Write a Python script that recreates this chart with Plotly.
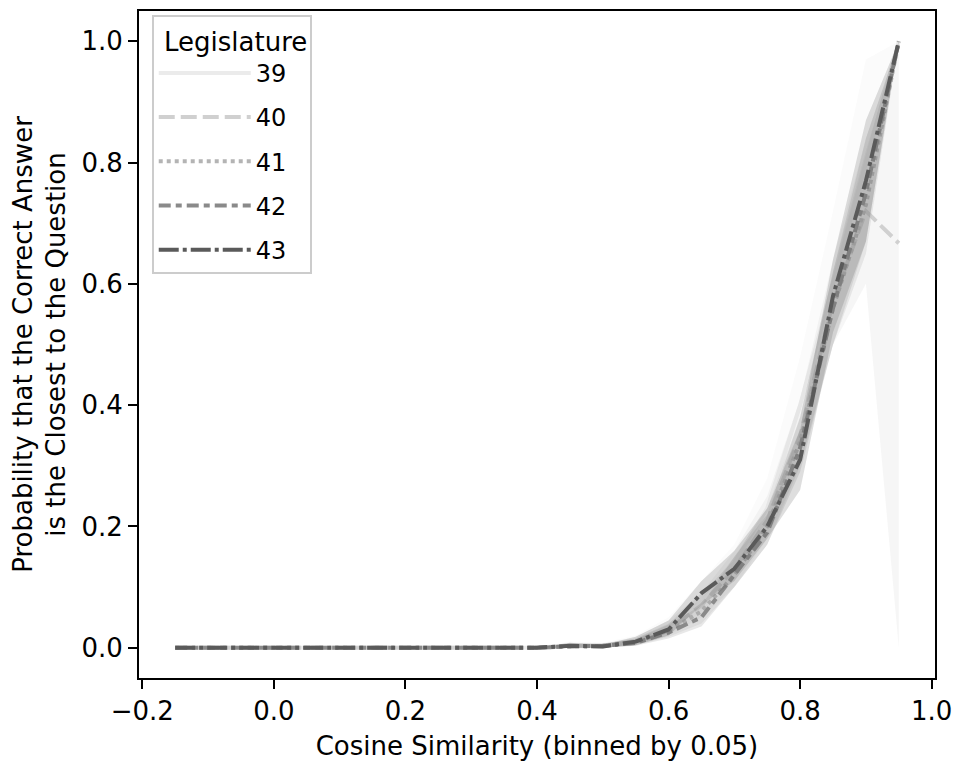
import plotly.graph_objects as go

x_bins = [-0.15, -0.10, -0.05, 0.00, 0.05, 0.10, 0.15, 0.20, 0.25, 0.30, 0.35,
          0.40, 0.45, 0.50, 0.55, 0.60, 0.65, 0.70, 0.75, 0.80, 0.85, 0.90, 0.95]

legislatures = ["39", "40", "41", "42", "43"]

zeros = [0.0] * 11

mean_39 = zeros + [0.0, 0.004, 0.003, 0.012, 0.035, 0.085, 0.14, 0.23, 0.40, 0.60, 0.80, 1.0]
mean_40 = zeros + [0.0, 0.003, 0.002, 0.010, 0.030, 0.070, 0.13, 0.21, 0.35, 0.57, 0.72, 0.667]
mean_41 = zeros + [0.0, 0.002, 0.003, 0.009, 0.028, 0.060, 0.12, 0.20, 0.34, 0.56, 0.73, 1.0]
mean_42 = zeros + [0.0, 0.002, 0.003, 0.008, 0.025, 0.050, 0.12, 0.19, 0.33, 0.56, 0.75, 1.0]
mean_43 = zeros + [0.0, 0.003, 0.002, 0.010, 0.030, 0.090, 0.13, 0.20, 0.31, 0.58, 0.77, 1.0]

low_39 = zeros + [0.0, 0.0, 0.0, 0.005, 0.020, 0.060, 0.11, 0.19, 0.33, 0.50, 0.65, 1.0]
high_39 = zeros + [0.0, 0.010, 0.008, 0.020, 0.050, 0.110, 0.17, 0.28, 0.48, 0.72, 0.97, 1.0]
low_40 = zeros + [0.0, 0.0, 0.0, 0.004, 0.020, 0.050, 0.10, 0.18, 0.30, 0.50, 0.60, 0.0]
high_40 = zeros + [0.0, 0.008, 0.006, 0.018, 0.045, 0.090, 0.16, 0.25, 0.41, 0.64, 0.84, 1.0]
low_41 = zeros + [0.0, 0.0, 0.0, 0.004, 0.018, 0.040, 0.10, 0.17, 0.30, 0.50, 0.65, 1.0]
high_41 = zeros + [0.0, 0.006, 0.007, 0.015, 0.040, 0.080, 0.15, 0.23, 0.38, 0.62, 0.82, 1.0]
low_42 = zeros + [0.0, 0.0, 0.0, 0.003, 0.015, 0.035, 0.10, 0.17, 0.29, 0.50, 0.67, 1.0]
high_42 = zeros + [0.0, 0.006, 0.007, 0.014, 0.038, 0.070, 0.15, 0.22, 0.38, 0.62, 0.84, 1.0]
low_43 = zeros + [0.0, 0.0, 0.0, 0.004, 0.020, 0.070, 0.11, 0.18, 0.26, 0.52, 0.67, 1.0]
high_43 = zeros + [0.0, 0.008, 0.005, 0.018, 0.045, 0.110, 0.16, 0.23, 0.36, 0.64, 0.87, 1.0]

means = [mean_39, mean_40, mean_41, mean_42, mean_43]
lows = [low_39, low_40, low_41, low_42, low_43]
highs = [high_39, high_40, high_41, high_42, high_43]

greys = [235, 208, 180, 138, 90]
dashes = ["solid", "16px,6px", "4px,4px", "12px,5px,6px,5px", "20px,4px,4px,4px"]

FONT = "DejaVu Sans"
FS = 26

fig = go.Figure()
for name, m, lo, hi, g, d in zip(legislatures, means, lows, highs, greys, dashes):
    col = f"rgb({g},{g},{g})"
    fill = f"rgba({g},{g},{g},0.2)"
    fig.add_trace(go.Scatter(x=x_bins, y=m, mode="lines", name=name,
                             line=dict(color=col, width=4, dash=d), legendgroup=name))
    fig.add_trace(go.Scatter(x=x_bins, y=hi, mode="lines", line=dict(width=0),
                             showlegend=False, hoverinfo="skip", legendgroup=name))
    fig.add_trace(go.Scatter(x=x_bins, y=lo, mode="lines", line=dict(width=0),
                             fill="tonexty", fillcolor=fill,
                             showlegend=False, hoverinfo="skip", legendgroup=name))

axis_common = dict(showgrid=False, zeroline=False, showline=True, linecolor="black",
                   linewidth=2, mirror=True, ticks="outside", ticklen=9, tickwidth=2,
                   tickcolor="black", tickfont=dict(family=FONT, size=FS, color="black"))

fig.update_layout(
    width=961, height=765,
    margin=dict(l=139, r=24, t=9, b=85),
    paper_bgcolor="white", plot_bgcolor="white",
    font=dict(family=FONT, size=FS, color="black"),
    xaxis=dict(range=[-0.205, 1.005], tickvals=[-0.2, 0.0, 0.2, 0.4, 0.6, 0.8, 1.0],
               ticktext=["\u22120.2", "0.0", "0.2", "0.4", "0.6", "0.8", "1.0"],
               title=dict(text="Cosine Similarity (binned by 0.05)",
                          font=dict(family=FONT, size=FS), standoff=12),
               **axis_common),
    yaxis=dict(range=[-0.05, 1.05], tickvals=[0.0, 0.2, 0.4, 0.6, 0.8, 1.0],
               ticktext=["0.0", "0.2", "0.4", "0.6", "0.8", "1.0"],
               title=dict(text="Probability that the Correct Answer<br>is the Closest to the Question",
                          font=dict(family=FONT, size=FS), standoff=8),
               **axis_common),
    legend=dict(x=0.016, y=0.994, xanchor="left", yanchor="top",
                bgcolor="rgba(255,255,255,0.8)", bordercolor="#cccccc", borderwidth=2,
                itemwidth=92,
                title=dict(text=" Legislature", font=dict(family=FONT, size=FS)),
                font=dict(family=FONT, size=24)),
    showlegend=True,
)

fig.write_html("out.html")
